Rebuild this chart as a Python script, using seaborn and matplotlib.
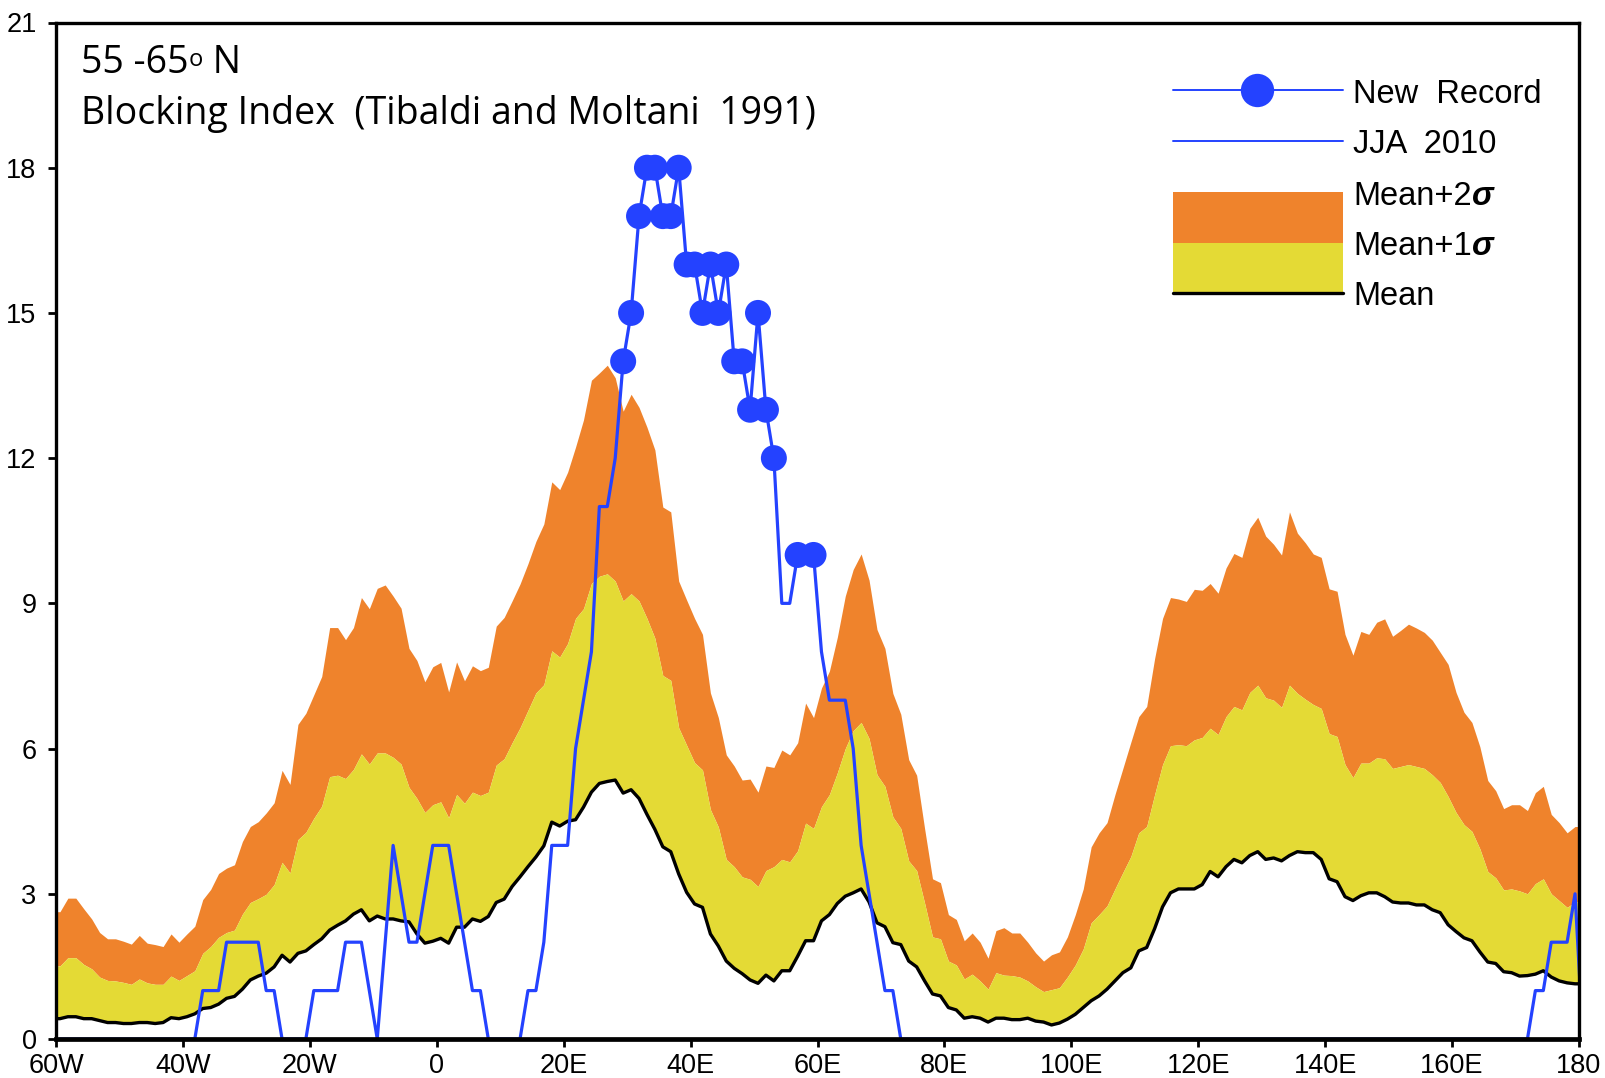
import numpy as np
import matplotlib
matplotlib.use("Agg")
import matplotlib.pyplot as plt
from matplotlib.patches import Rectangle
import seaborn as sns

# ---------------- data ----------------
# longitude grid: centres of 1.25 degree cells, 60W .. 180
lon = np.arange(-59.375, 180.0, 1.25)

mean_p2sd = [  # Mean + 2 sigma
    2.63, 2.91, 2.91, 2.69, 2.48, 2.2, 2.07, 2.07, 2.02, 1.96, 2.14, 1.98, 1.95, 1.91, 2.17, 2.0, 2.17, 2.33, 2.88, 3.09,
    3.42, 3.53, 3.6, 4.08, 4.39, 4.49, 4.67, 4.88, 5.55, 5.26, 6.5, 6.73, 7.11, 7.49, 8.5, 8.5, 8.25, 8.5, 9.12, 8.89,
    9.31, 9.38, 9.15, 8.9, 8.07, 7.82, 7.38, 7.69, 7.78, 7.17,
    7.79, 7.4, 7.71, 7.61, 7.68, 8.53, 8.71, 9.05, 9.4, 9.82, 10.28, 10.64, 11.51, 11.35, 11.71, 12.23, 12.79, 13.61,
    13.76, 13.92, 13.66, 12.97, 13.32, 13.05, 12.64, 12.17, 10.99, 10.89, 9.46, 9.07, 8.69, 8.36, 7.15, 6.64, 5.87,
    5.64, 5.35, 5.37, 5.1, 5.64, 5.61, 5.97, 5.87, 6.12, 6.94, 6.64, 7.25, 7.6, 8.3, 9.15,
    9.70, 10.02, 9.48, 8.46, 8.07, 7.14, 6.71, 5.77, 5.45, 4.35, 3.31, 3.23, 2.57, 2.47, 2.03, 2.19, 2.0, 1.67, 2.24,
    2.3, 2.19, 2.19, 2.0, 1.78, 1.61, 1.74, 1.8, 2.11, 2.57, 3.1, 3.97, 4.26, 4.47, 5.05, 5.59, 6.13, 6.66, 6.87, 7.86,
    8.69, 9.12, 9.09, 9.04, 9.29, 9.27, 9.41, 9.21, 9.73, 10.03, 9.95, 10.55,
    10.78, 10.39, 10.22, 10.0, 10.89, 10.45, 10.25, 10.02, 9.95, 9.3, 9.25, 8.36, 7.93, 8.42, 8.36, 8.61, 8.68, 8.32,
    8.44, 8.57, 8.49, 8.4, 8.24, 7.99, 7.74, 7.16, 6.75, 6.54, 6.04, 5.34, 5.13, 4.76, 4.84, 4.84, 4.72, 5.09, 5.22,
    4.64, 4.47, 4.26, 4.39,
]

mean_p1sd = [  # Mean + 1 sigma
    1.51, 1.68, 1.68, 1.54, 1.45, 1.28, 1.21, 1.2, 1.17, 1.13, 1.24, 1.16, 1.13, 1.13, 1.3, 1.21, 1.31, 1.41, 1.77, 1.91,
    2.1, 2.2, 2.25, 2.58, 2.82, 2.9, 2.99, 3.19, 3.65, 3.43, 4.12, 4.27, 4.56, 4.81, 5.42, 5.45, 5.38, 5.57, 5.89, 5.68,
    5.91, 5.91, 5.82, 5.68, 5.2, 4.97, 4.68, 4.84, 4.9, 4.57,
    5.05, 4.87, 5.1, 5.03, 5.1, 5.66, 5.79, 6.12, 6.43, 6.79, 7.15, 7.32, 8.02, 7.89, 8.17, 8.69, 8.89, 9.41, 9.56,
    9.61, 9.46, 9.05, 9.2, 9.05, 8.69, 8.28, 7.51, 7.41, 6.43, 6.07, 5.71, 5.56, 4.74, 4.38, 3.71, 3.56, 3.35, 3.3,
    3.15, 3.48, 3.56, 3.71, 3.66, 3.89, 4.46, 4.35, 4.8, 5.05, 5.5, 6.0,
    6.37, 6.54, 6.21, 5.46, 5.22, 4.59, 4.35, 3.68, 3.48, 2.81, 2.11, 2.07, 1.61, 1.53, 1.24, 1.34, 1.2, 1.03, 1.37,
    1.32, 1.31, 1.28, 1.2, 1.08, 0.98, 1.02, 1.06, 1.28, 1.53, 1.86, 2.4, 2.57, 2.75, 3.1, 3.44, 3.77, 4.26, 4.39, 5.05,
    5.67, 6.06, 6.08, 6.06, 6.18, 6.23, 6.42, 6.29, 6.66, 6.87, 6.8, 7.16,
    7.31, 7.05, 7.0, 6.85, 7.31, 7.14, 7.02, 6.91, 6.83, 6.31, 6.25, 5.67, 5.4, 5.7, 5.7, 5.81, 5.79, 5.59, 5.63, 5.67,
    5.63, 5.59, 5.46, 5.3, 5.01, 4.68, 4.43, 4.29, 3.93, 3.46, 3.33, 3.08, 3.1, 3.06, 3.0, 3.21, 3.31, 3.0, 2.86, 2.72,
    2.83,
]

mean_vals = [  # climatological mean
    0.42, 0.46, 0.46, 0.42, 0.42, 0.38, 0.34, 0.34, 0.32, 0.32, 0.34, 0.34, 0.32, 0.34, 0.44, 0.42, 0.46, 0.52, 0.63,
    0.65, 0.72, 0.84, 0.88, 1.03, 1.22, 1.3, 1.36, 1.49, 1.73, 1.59, 1.77, 1.82, 1.95, 2.07, 2.25, 2.35, 2.44, 2.58,
    2.67, 2.44, 2.54, 2.48, 2.48, 2.44, 2.42, 2.17, 1.98, 2.02, 2.08, 1.98,
    2.31, 2.31, 2.48, 2.43, 2.53, 2.82, 2.89, 3.15, 3.35, 3.56, 3.76, 3.99, 4.48, 4.4, 4.5, 4.53, 4.79, 5.1, 5.28, 5.32,
    5.35, 5.08, 5.15, 4.97, 4.64, 4.33, 3.97, 3.87, 3.41, 3.03, 2.79, 2.72, 2.17, 1.92, 1.61, 1.46, 1.35, 1.22, 1.15,
    1.32, 1.2, 1.41, 1.41, 1.71, 2.03, 2.03, 2.44, 2.57, 2.8, 2.95,
    3.02, 3.1, 2.83, 2.4, 2.32, 1.99, 1.95, 1.61, 1.49, 1.2, 0.93, 0.89, 0.65, 0.6, 0.43, 0.46, 0.43, 0.35, 0.43, 0.43,
    0.4, 0.4, 0.43, 0.37, 0.35, 0.29, 0.33, 0.41, 0.51, 0.65, 0.79, 0.89, 1.03, 1.2, 1.37, 1.47, 1.82, 1.89, 2.28, 2.73,
    3.02, 3.1, 3.1, 3.1, 3.19, 3.46, 3.35, 3.56, 3.71, 3.64, 3.79,
    3.87, 3.71, 3.74, 3.68, 3.79, 3.87, 3.85, 3.85, 3.71, 3.31, 3.25, 2.94, 2.86, 2.96, 3.02, 3.02, 2.94, 2.83, 2.81,
    2.81, 2.77, 2.77, 2.67, 2.61, 2.36, 2.22, 2.09, 2.03, 1.8, 1.59, 1.56, 1.39, 1.37, 1.3, 1.31, 1.34, 1.41, 1.28, 1.2,
    1.16, 1.14,
]

# JJA 2010 (one extra value just east of 180, which the axis clips)
jja_2010 = (
    [0] * 18 + [1, 1, 1, 2, 2, 2, 2, 2, 1, 1, 0, 0, 0, 0, 1, 1, 1, 1, 2, 2, 2, 1, 0, 2, 4, 3, 2, 2, 3, 4, 4, 4,
                3, 2, 1, 1, 0, 0, 0, 0, 0, 1, 1, 2, 4, 4, 4, 6, 7, 8, 11, 11, 12,
                14, 15, 17, 18, 18, 17, 17, 18, 16, 16, 15, 16, 15, 16, 14, 14, 13, 15, 13, 12,
                9, 9, 10, 10, 10, 8, 7, 7, 7, 6, 4, 3, 2, 1, 1]
    + [0] * 80 + [1, 1, 2, 2, 2, 3, 0]
)
# grid indices where JJA 2010 set a new record
record_idx = [71, 72, 73, 74, 75, 76, 77, 78, 79, 80, 81, 82, 83, 84, 85, 86, 87, 88, 89, 90, 93, 95]

xtick_vals = [-60, -40, -20, 0, 20, 40, 60, 80, 100, 120, 140, 160, 180]
xtick_labels = ["60W", "40W", "20W", "0", "20E", "40E", "60E", "80E", "100E", "120E", "140E", "160E", "180"]
ytick_vals = [0, 3, 6, 9, 12, 15, 18, 21]

title_lines = ["55 -65", "o", " N", "Blocking Index  (Tibaldi and Moltani  1991)"]
legend_labels = ["New  Record", "JJA  2010", "Mean+2", "Mean+1", "Mean", "\u03c3"]

# ---------------- style ----------------
ORANGE = "#EF832C"
YELLOW = "#E4DA35"
BLUE = "#2442FF"

sns.set_theme(style="white")
plt.rcParams["font.family"] = ["Liberation Sans", "DejaVu Sans"]

W, H = 1605, 1078
fig = plt.figure(figsize=(W / 100, H / 100), dpi=100)
fig.patch.set_facecolor("white")
ax_l, ax_r, ax_t, ax_b = 56, 1579, 22.5, 1039
ax = fig.add_axes([ax_l / W, 1 - ax_b / H, (ax_r - ax_l) / W, (ax_b - ax_t) / H])

# edge-extended arrays so fills reach the frame
lon_ext = np.r_[-60.0, lon, 180.0]
m = np.asarray(mean_vals, float)
p1 = np.asarray(mean_p1sd, float)
p2 = np.asarray(mean_p2sd, float)
m_ext = np.r_[m[0], m, m[-1]]
p1_ext = np.r_[p1[0], p1, p1[-1]]
p2_ext = np.r_[p2[0], p2, p2[-1]]

ax.fill_between(lon_ext, p1_ext, p2_ext, color=ORANGE, lw=0, zorder=1)
ax.fill_between(lon_ext, m_ext, p1_ext, color=YELLOW, lw=0, zorder=1)
sns.lineplot(x=lon_ext, y=m_ext, color="black", lw=2.4, ax=ax, estimator=None, sort=False, zorder=3)

lon_j = np.r_[lon, lon[-1] + 1.25]
jja = np.asarray(jja_2010, float)
sns.lineplot(x=lon_j, y=jja, color=BLUE, lw=2.3, ax=ax, estimator=None, sort=False, zorder=4)
sns.scatterplot(x=lon[record_idx], y=jja[record_idx], color=BLUE, s=350, edgecolor="none",
                ax=ax, zorder=5, clip_on=False)

ax.set_xlim(-60, 180)
ax.set_ylim(0, 21)
ax.set_xticks(xtick_vals)
ax.set_xticklabels(xtick_labels)
ax.set_yticks(ytick_vals)
ax.set_xlabel("")
ax.set_ylabel("")
for name, s in ax.spines.items():
    s.set_visible(True)
    s.set_color("black")
    s.set_linewidth(3.4 if name == "bottom" else 2.4)
    s.set_zorder(6)
ax.tick_params(axis="both", which="major", direction="out", length=6, width=2, colors="black",
               bottom=True, left=True, top=False, right=False, labelsize=18)
ax.tick_params(axis="x", pad=4)
ax.tick_params(axis="y", pad=8)
for lab in ax.get_xticklabels() + ax.get_yticklabels():
    lab.set_family(["Liberation Sans Narrow", "Liberation Sans", "DejaVu Sans"])
    lab.set_fontsize(19.5)
ax.grid(False)

# ---------------- titles ----------------
def fx(px):
    return (px - ax_l) / (ax_r - ax_l)

def fy(py):
    return (ax_b - py) / (ax_b - ax_t)

tfont = dict(family=["Open Sans", "DejaVu Sans"], color="black")
t1 = ax.text(fx(81), fy(73), title_lines[0], transform=ax.transAxes, fontsize=27, va="baseline", ha="left", **tfont)
t2 = ax.annotate(title_lines[1], xy=(1.0, 0.9), xycoords=t1, va="top", ha="left", fontsize=17, **tfont)
ax.annotate(title_lines[2], xy=(1.0, 0.0), xycoords=(t2, t1), va="bottom", ha="left", fontsize=27, **tfont)
ax.text(fx(81), fy(124), title_lines[3], transform=ax.transAxes, fontsize=27, va="baseline", ha="left", **tfont)

# ---------------- legend (hand drawn, as in the reference) ----------------
kx0, kx1 = fx(1173), fx(1343)
lx = fx(1353)
lfont = dict(family=["Liberation Sans", "DejaVu Sans"], fontsize=23.5, color="black")

ax.plot([kx0, kx1], [fy(90)] * 2, transform=ax.transAxes, color=BLUE, lw=1.4, clip_on=False, zorder=7)
ax.plot([fx(1257)], [fy(90)], "o", transform=ax.transAxes, color=BLUE, ms=24, mec="none", clip_on=False, zorder=8)
ax.plot([kx0, kx1], [fy(140.7)] * 2, transform=ax.transAxes, color=BLUE, lw=1.4, clip_on=False, zorder=7)
ax.add_patch(Rectangle((kx0, fy(242.7)), kx1 - kx0, fy(191.7) - fy(242.7), transform=ax.transAxes,
                       facecolor=ORANGE, edgecolor="none", zorder=7))
ax.add_patch(Rectangle((kx0, fy(292.7)), kx1 - kx0, fy(242.7) - fy(292.7), transform=ax.transAxes,
                       facecolor=YELLOW, edgecolor="none", zorder=7))
ax.plot([kx0, kx1], [fy(292.7)] * 2, transform=ax.transAxes, color="black", lw=2.4, clip_on=False, zorder=8)

ax.text(lx, fy(102.7), legend_labels[0], transform=ax.transAxes, va="baseline", ha="left", **lfont)
ax.text(lx, fy(153.3), legend_labels[1], transform=ax.transAxes, va="baseline", ha="left", **lfont)
s2 = ax.text(lx, fy(205), legend_labels[2], transform=ax.transAxes, va="baseline", ha="left", **lfont)
ax.annotate(legend_labels[5], xy=(1.0, 0.0), xycoords=s2, va="bottom", ha="left",
            fontweight="bold", fontstyle="italic", **lfont)
s1 = ax.text(lx, fy(255), legend_labels[3], transform=ax.transAxes, va="baseline", ha="left", **lfont)
ax.annotate(legend_labels[5], xy=(1.0, 0.0), xycoords=s1, va="bottom", ha="left",
            fontweight="bold", fontstyle="italic", **lfont)
ax.text(lx, fy(305), legend_labels[4], transform=ax.transAxes, va="baseline", ha="left", **lfont)

fig.savefig("out.png", dpi=100, facecolor="white")
